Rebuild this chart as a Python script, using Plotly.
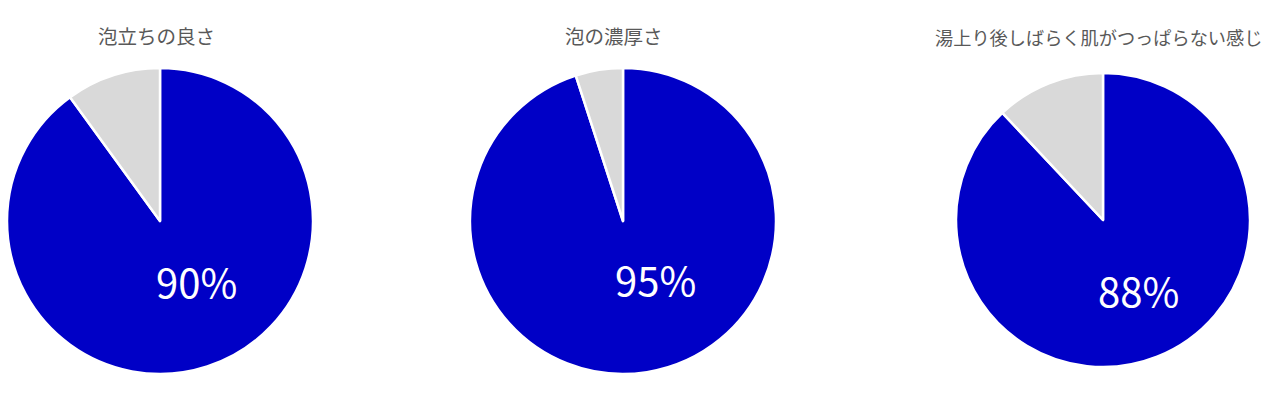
import plotly.graph_objects as go

titles = ["泡立ちの良さ", "泡の濃厚さ", "湯上り後しばらく肌がつっぱらない感じ"]
positive = [90, 95, 88]
negative = [10, 5, 12]
labels = ["はい", "いいえ"]

W, H = 1280, 403
# pixel layout: pie centres, radii, label positions, title positions
centers = [(160, 221), (623, 221), (1103, 220)]
radii = [153, 153, 147]
label_pos = [(196, 281), (655, 279), (1138, 290)]
title_pos = [(156, 36), (614, 36), (1098, 37)]
title_size = [19.5, 19.5, 18.2]

colors = ["#0000C6", "#D9D9D9"]

fig = go.Figure()
for i in range(3):
    cx, cy = centers[i]
    r = radii[i]
    fig.add_trace(go.Pie(
        labels=labels,
        values=[positive[i], negative[i]],
        sort=False,
        direction="clockwise",
        rotation=0,
        marker=dict(colors=colors, line=dict(color="white", width=2.5)),
        textinfo="none",
        hoverinfo="label+percent",
        showlegend=False,
        domain=dict(x=[(cx - r) / W, (cx + r) / W],
                    y=[(H - cy - r) / H, (H - cy + r) / H]),
    ))
    lx, ly = label_pos[i]
    fig.add_annotation(
        x=lx / W, y=1 - ly / H, xref="paper", yref="paper",
        text=f"{positive[i]}%", showarrow=False,
        font=dict(family="Noto Sans CJK JP", size=40, color="white"),
        xanchor="center", yanchor="middle",
    )
    tx, ty = title_pos[i]
    fig.add_annotation(
        x=tx / W, y=1 - ty / H, xref="paper", yref="paper",
        text=titles[i], showarrow=False,
        font=dict(family="Noto Sans CJK JP", size=title_size[i], color="#595959"),
        xanchor="center", yanchor="middle",
    )

fig.update_layout(
    width=W, height=H,
    margin=dict(l=0, r=0, t=0, b=0),
    paper_bgcolor="white",
    plot_bgcolor="white",
)

fig.write_html("out.html", config={"displayModeBar": False},
               post_script="document.body.style.margin='0';")
